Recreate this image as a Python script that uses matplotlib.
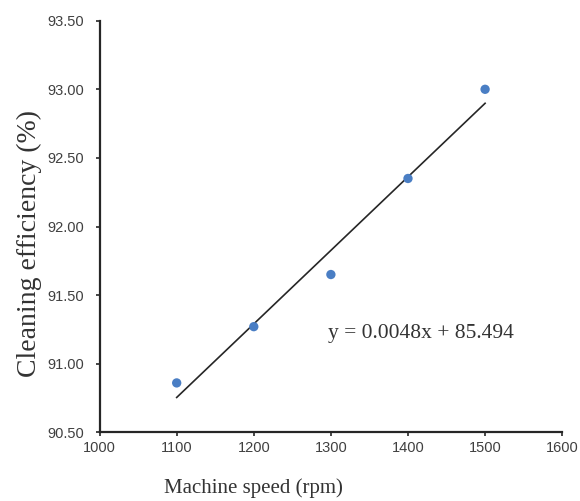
import numpy as np
import matplotlib
matplotlib.use("Agg")
from matplotlib import pyplot as plt

# machine speed (rpm) vs cleaning efficiency (%)
speed = [1100, 1200, 1300, 1400, 1500]
efficiency = [90.86, 91.27, 91.65, 92.35, 93.00]
x_ticks = [1000, 1100, 1200, 1300, 1400, 1500, 1600]
y_ticks = [90.50, 91.00, 91.50, 92.00, 92.50, 93.00, 93.50]
equation = "y = 0.0048x + 85.494"

serif = ['Liberation Serif', 'DejaVu Serif']
tickfont = ['Liberation Sans', 'DejaVu Sans']

fig = plt.figure(figsize=(5.8, 5.01), dpi=100)
ax = fig.add_axes([0.1717, 0.1371, 0.7976, 0.8216])

# linear trendline fitted to the points
coef = np.polyfit(speed, efficiency, 1)
xs = np.array([speed[0], speed[-1]])
ax.plot(xs, np.polyval(coef, xs), color='#262626', lw=1.2, zorder=2)
ax.scatter(speed, efficiency, s=45, color='#4a7ec4', zorder=3, edgecolors='none')

ax.set_xlim(1000, 1600)
ax.set_ylim(90.5, 93.5)
ax.set_xticks(x_ticks)
ax.set_yticks(y_ticks)
ax.set_xticklabels([str(v) for v in x_ticks], family=tickfont, fontsize=10.5, color='#404040')
ax.set_yticklabels(["%.2f" % v for v in y_ticks], family=tickfont, fontsize=10.5, color='#404040')
ax.tick_params(direction='out', length=3, width=1.2, color='#262626')
ax.tick_params(axis='x', pad=3)
ax.tick_params(axis='y', pad=8)

for side in ['top', 'right']:
    ax.spines[side].set_visible(False)
for side in ['left', 'bottom']:
    ax.spines[side].set_linewidth(1.6)
    ax.spines[side].set_color('#262626')

ax.text(0.3316, -0.135, "Machine speed (rpm)", transform=ax.transAxes,
        ha='center', va='center', family=serif, fontsize=15, color='#333333')
ax.text(-0.152, 0.4575, "Cleaning efficiency (%)", transform=ax.transAxes,
        ha='center', va='center', rotation=90, family=serif, fontsize=20, color='#333333')

ax.text(1296, 91.22, equation, ha='left', va='center', family=serif,
        fontsize=15.5, color='#333333')

fig.savefig("out.png", dpi=100)
